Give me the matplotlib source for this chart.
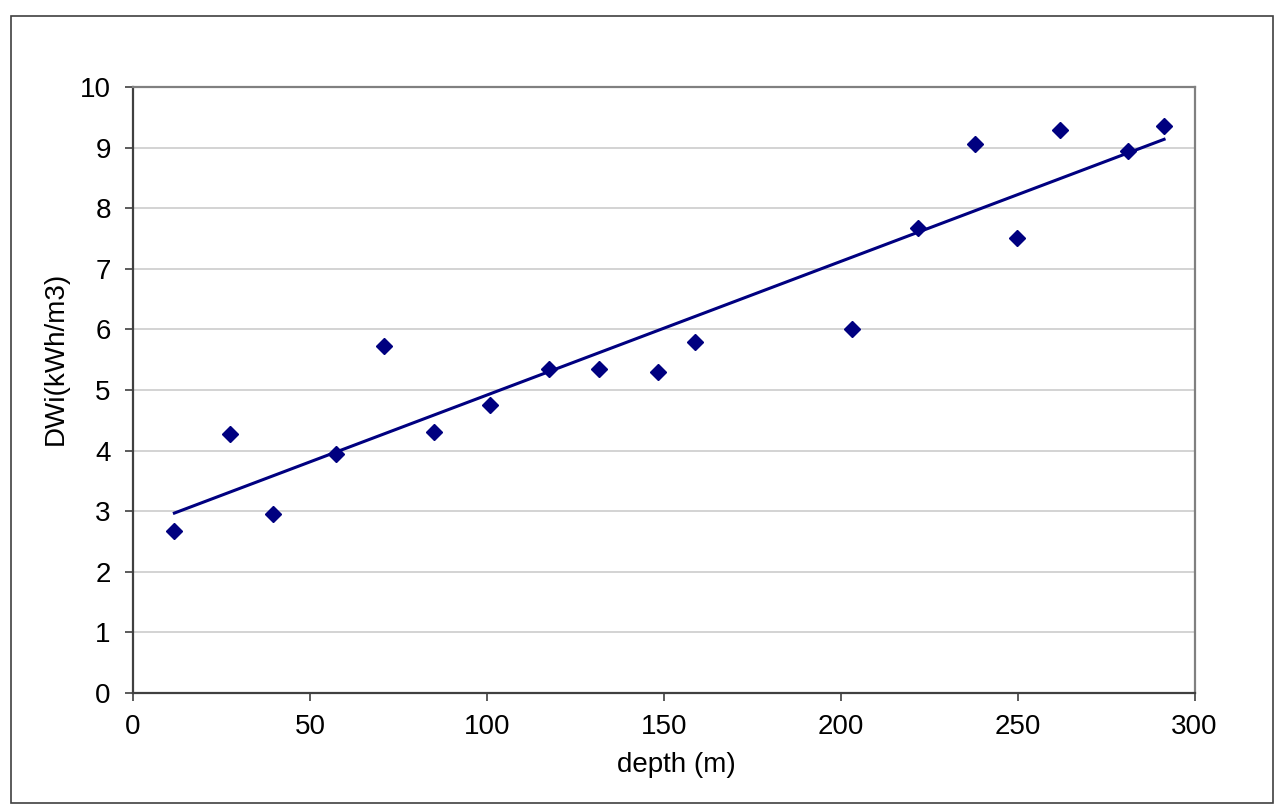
import numpy as np
import matplotlib
matplotlib.use("Agg")
import matplotlib.pyplot as plt
from matplotlib.patches import Rectangle

plt.rcParams['font.family'] = ['Liberation Sans', 'DejaVu Sans']

depth = [11.7, 27.3, 39.7, 57.5, 70.9, 85.2, 100.9, 117.6, 131.7, 148.3,
         158.8, 203.2, 221.9, 238.1, 249.8, 262.0, 281.1, 291.4]
dwi = [2.67, 4.28, 2.96, 3.95, 5.72, 4.31, 4.76, 5.35, 5.34, 5.30,
       5.80, 6.00, 7.67, 9.06, 7.51, 9.30, 8.95, 9.36]
xticks = [0, 50, 100, 150, 200, 250, 300]
yticks = list(range(0, 11))
xlabel = "depth (m)"
ylabel = "DWi(kWh/m3)"

navy = "#000080"
W, H = 1279, 807
fig = plt.figure(figsize=(W / 100, H / 100), dpi=100)
fig.patch.set_facecolor("white")

# outer chart border
fig.patches.append(Rectangle((11 / W, 1 - 803 / H), (1273 - 11) / W, (803 - 16) / H,
                             transform=fig.transFigure, fill=False,
                             edgecolor="#404040", linewidth=1.2))

l, r, t, b = 133, 1194.5, 87.3, 692.7
ax = fig.add_axes([l / W, 1 - b / H, (r - l) / W, (b - t) / H])

x = np.array(depth)
y = np.array(dwi)
coef = np.polyfit(x, y, 1)
xl = np.array([x.min(), x.max()])
ax.plot(xl, np.polyval(coef, xl), color=navy, lw=2.2, zorder=3)
ax.plot(x, y, linestyle="none", marker="D", markersize=7.8, color=navy,
        markeredgecolor=navy, zorder=4)

ax.set_xlim(0, 300)
ax.set_ylim(0, 10)
ax.set_xticks(xticks)
ax.set_yticks(yticks)
ax.grid(axis="y", color="#c8c8c8", linewidth=1.1)
ax.set_axisbelow(True)

for s in ["left", "bottom"]:
    ax.spines[s].set_color("#404040")
    ax.spines[s].set_linewidth(1.6)
for s in ["top", "right"]:
    ax.spines[s].set_color("#808080")
    ax.spines[s].set_linewidth(1.6)

ax.tick_params(axis="both", direction="out", length=6, width=1.2,
               color="#404040", labelsize=20, labelcolor="black")
ax.tick_params(axis="y", pad=10)
ax.tick_params(axis="x", pad=9)

ax.set_xlabel(xlabel, fontsize=20)
ax.set_ylabel(ylabel, fontsize=20)
ax.xaxis.label.set_va("center")
ax.yaxis.label.set_va("center")
ax.xaxis.set_label_coords((676.7 - l) / (r - l), (b - 765) / (b - t))
ax.yaxis.set_label_coords((56 - l) / (r - l), (b - 358) / (b - t))

fig.savefig("out.png", dpi=100)
